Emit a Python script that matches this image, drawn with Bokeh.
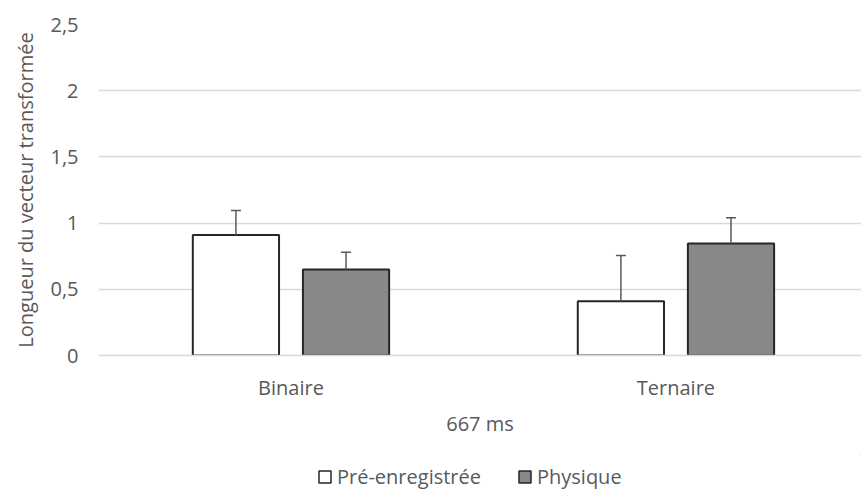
from bokeh.plotting import figure
from bokeh.layouts import column
from bokeh.models import Range1d, FixedTicker, Legend, LegendItem, Whisker, TeeHead, ColumnDataSource
from bokeh.embed import file_html
from bokeh.resources import INLINE

categories = ["Binaire", "Ternaire"]
series_names = ["Pré-enregistrée", "Physique"]
series_colors = ["white", "#888888"]
pre_values = [0.91, 0.41]
pre_errors = [0.185, 0.345]
phys_values = [0.65, 0.846]
phys_errors = [0.13, 0.195]
y_ticks = [0, 0.5, 1, 1.5, 2, 2.5]
y_tick_labels = ["0", "0,5", "1", "1,5", "2", "2,5"]
x_axis_title = "667 ms"
y_axis_title = "Longueur du vecteur transformée"

FONT = "Open Sans"
TXT = "#595959"
GRID = "#d9d9d9"
EDGE = "#262626"
BAR_W = 0.224
OFF = 0.143
FS = "20px"

centers = [i + 0.5 for i in range(len(categories))]

p = figure(frame_width=763, frame_height=331, output_backend="svg", toolbar_location=None,
           x_range=Range1d(0, 1.982), y_range=Range1d(0, 2.5),
           min_border_left=98, min_border_right=0, min_border_top=24, min_border_bottom=100)
p.outline_line_color = None
p.background_fill_color = "white"
p.border_fill_color = "white"

src_pre = ColumnDataSource(dict(x=[c - OFF for c in centers], top=pre_values,
                                upper=[v + e for v, e in zip(pre_values, pre_errors)]))
src_phys = ColumnDataSource(dict(x=[c + OFF for c in centers], top=phys_values,
                                 upper=[v + e for v, e in zip(phys_values, phys_errors)]))

p.vbar(x="x", top="top", bottom=0, width=BAR_W, source=src_pre,
       fill_color=series_colors[0], line_color=EDGE, line_width=2)
p.vbar(x="x", top="top", bottom=0, width=BAR_W, source=src_phys,
       fill_color=series_colors[1], line_color=EDGE, line_width=2)

for src in (src_pre, src_phys):
    w = Whisker(base="x", lower="top", upper="upper", source=src, dimension="height",
                line_color="#595959", line_width=1.5, level="overlay",
                upper_head=TeeHead(size=10, line_color="#595959", line_width=1.5),
                lower_head=None)
    p.add_layout(w)

# grid
p.xgrid.grid_line_color = None
p.ygrid.ticker = FixedTicker(ticks=y_ticks)
p.ygrid.grid_line_color = GRID
p.ygrid.grid_line_width = 1.5

# y axis
p.yaxis.ticker = FixedTicker(ticks=y_ticks)
p.yaxis.major_label_overrides = {t: l for t, l in zip(y_ticks, y_tick_labels)}
p.yaxis.axis_line_color = None
p.yaxis.major_tick_line_color = None
p.yaxis.minor_tick_line_color = None
p.yaxis.major_tick_out = 0
p.yaxis.major_label_standoff = 20
p.yaxis.major_label_text_font = FONT
p.yaxis.major_label_text_font_size = FS
p.yaxis.major_label_text_color = TXT
p.yaxis.axis_label = y_axis_title
p.yaxis.axis_label_text_font = FONT
p.yaxis.axis_label_text_font_size = FS
p.yaxis.axis_label_text_font_style = "normal"
p.yaxis.axis_label_text_color = TXT
p.yaxis.axis_label_standoff = 8

# x axis
p.xaxis.ticker = FixedTicker(ticks=centers)
p.xaxis.major_label_overrides = {c: n for c, n in zip(centers, categories)}
p.xaxis.axis_line_color = GRID
p.xaxis.axis_line_width = 1.5
p.xaxis.major_tick_line_color = None
p.xaxis.minor_tick_line_color = None
p.xaxis.major_tick_out = 0
p.xaxis.major_label_standoff = 18
p.xaxis.major_label_text_font = FONT
p.xaxis.major_label_text_font_size = FS
p.xaxis.major_label_text_color = TXT
p.xaxis.axis_label = x_axis_title
p.xaxis.axis_label_text_font = FONT
p.xaxis.axis_label_text_font_size = FS
p.xaxis.axis_label_text_font_style = "normal"
p.xaxis.axis_label_text_color = TXT
p.xaxis.axis_label_standoff = 6

# legend strip below the chart (proxy renderers sit outside the visible range)
lg = figure(width=861, height=35, output_backend="svg", toolbar_location=None,
            x_range=Range1d(0, 1), y_range=Range1d(0, 1),
            x_axis_location=None, y_axis_location=None,
            min_border_left=0, min_border_right=0, min_border_top=0, min_border_bottom=0)
lg.grid.visible = False
lg.outline_line_color = None
lg.background_fill_color = "white"
lg.border_fill_color = "white"
items = []
for name, col in zip(series_names, series_colors):
    r = lg.vbar(x="x", top="top", bottom="bottom", width=0.1,
                source=ColumnDataSource(dict(x=[5.0], top=[5.0], bottom=[4.0])),
                fill_color=col, line_color=EDGE, line_width=1.5)
    items.append(LegendItem(label=name, renderers=[r]))

legend = Legend(items=items, orientation="horizontal", location=(219, 0),
                padding=0, margin=0, spacing=36, label_standoff=5,
                glyph_width=15, glyph_height=15, label_height=27,
                border_line_color=None, background_fill_alpha=0,
                label_text_font=FONT, label_text_font_size=FS, label_text_color=TXT)
lg.add_layout(legend, "center")

layout = column(p, lg, spacing=0)
open("out.html", "w").write(file_html(layout, INLINE))
